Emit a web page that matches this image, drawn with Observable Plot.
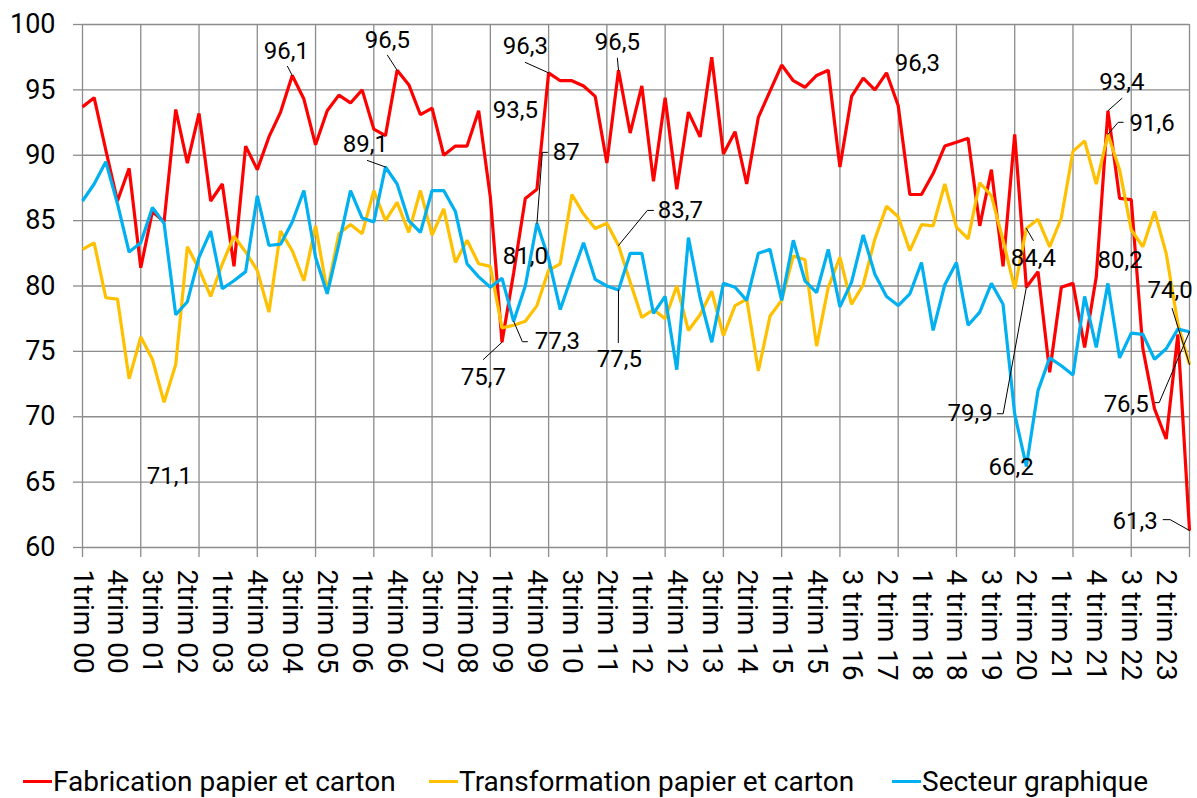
<!DOCTYPE html>
<html><head><meta charset="utf-8">
<script src="https://cdn.jsdelivr.net/npm/d3@7"></script>
<script src="https://cdn.jsdelivr.net/npm/@observablehq/plot@0.6"></script>
<style>
html,body{margin:0;padding:0;background:#fff;overflow:hidden;}
body{width:1197px;height:798px;font-family:Roboto,"Liberation Sans",sans-serif;}
#legend{position:relative;height:36px;font-size:28px;color:#000;}
.item{position:absolute;top:0;height:36px;display:flex;align-items:center;white-space:nowrap;}
.sw{width:29px;height:3px;margin-right:1px;}
</style></head><body>
<div id="chart"></div>
<div id="legend"></div>
<script>
const categories = [
"1trim 00","2trim 00","3trim 00","4trim 00","1trim 01","2trim 01","3trim 01","4trim 01",
"1trim 02","2trim 02","3trim 02","4trim 02","1trim 03","2trim 03","3trim 03","4trim 03",
"1trim 04","2trim 04","3trim 04","4trim 04","1trim 05","2trim 05","3trim 05","4trim 05",
"1trim 06","2trim 06","3trim 06","4trim 06","1trim 07","2trim 07","3trim 07","4trim 07",
"1trim 08","2trim 08","3trim 08","4trim 08","1trim 09","2trim 09","3trim 09","4trim 09",
"1trim 10","2trim 10","3trim 10","4trim 10","1trim 11","2trim 11","3trim 11","4trim 11",
"1trim 12","2trim 12","3trim 12","4trim 12","1trim 13","2trim 13","3trim 13","4trim 13",
"1trim 14","2trim 14","3trim 14","4trim 14","1trim 15","2trim 15","3trim 15","4trim 15",
"1 trim 16","2 trim 16","3 trim 16","4 trim 16","1 trim 17","2 trim 17","3 trim 17","4 trim 17",
"1 trim 18","2 trim 18","3 trim 18","4 trim 18","1 trim 19","2 trim 19","3 trim 19","4 trim 19",
"1 trim 20","2 trim 20","3 trim 20","4 trim 20","1 trim 21","2 trim 21","3 trim 21","4 trim 21",
"1 trim 22","2 trim 22","3 trim 22","4 trim 22","1 trim 23","2 trim 23","3 trim 23","4 trim 23"];

const fabrication = [
93.7,94.4,90.4,86.5,89.0,81.4,85.7,84.9,93.5,89.4,93.2,86.5,87.8,81.5,90.7,88.9,
91.4,93.3,96.1,94.3,90.8,93.4,94.6,94.0,95.0,92.0,91.5,96.5,95.4,93.1,93.6,90.0,
90.7,90.7,93.4,86.8,75.7,81.0,86.7,87.4,96.3,95.7,95.7,95.3,94.5,89.4,96.5,91.7,
95.3,88.0,94.4,87.4,93.3,91.4,97.5,90.1,91.8,87.8,92.9,94.9,96.9,95.7,95.2,96.1,
96.5,89.1,94.5,95.9,95.0,96.3,93.8,87.0,87.0,88.6,90.7,91.0,91.3,84.6,88.9,81.5,
91.6,79.9,81.1,73.4,79.9,80.2,75.3,80.7,93.4,86.7,86.6,75.2,70.6,68.3,76.3,61.3];

const transformation = [
82.8,83.3,79.1,79.0,72.9,76.1,74.4,71.1,74.0,83.0,81.3,79.2,81.7,83.8,82.6,81.2,
78.0,84.2,82.7,80.4,84.6,79.6,84.0,84.7,84.0,87.3,85.0,86.4,84.1,87.3,83.9,85.9,
81.8,83.5,81.7,81.5,76.8,77.0,77.3,78.5,81.2,81.7,87.0,85.5,84.4,84.8,83.1,80.3,
77.6,78.2,77.5,80.0,76.6,77.8,79.6,76.2,78.5,79.0,73.5,77.7,78.9,82.3,82.0,75.4,
79.9,82.2,78.6,80.1,83.6,86.1,85.3,82.7,84.7,84.6,87.8,84.5,83.6,87.9,86.9,83.5,
79.8,84.4,85.1,83.0,85.2,90.3,91.1,87.8,91.6,88.9,84.3,83.0,85.7,82.5,77.1,74.0];

const graphique = [
86.5,87.8,89.5,86.3,82.6,83.3,86.0,84.8,77.8,78.8,82.2,84.2,79.8,80.4,81.1,86.9,
83.1,83.2,84.9,87.3,82.2,79.4,83.2,87.3,85.2,84.9,89.1,87.8,85.0,84.1,87.3,87.3,
85.7,81.7,80.7,79.9,80.6,77.3,80.0,84.8,82.1,78.2,80.8,83.3,80.5,80.0,79.7,82.5,
82.5,77.9,79.2,73.6,83.7,79.1,75.7,80.2,79.9,78.9,82.5,82.8,78.9,83.5,80.4,79.5,
82.8,78.4,80.3,83.9,80.9,79.2,78.5,79.4,81.8,76.6,80.1,81.8,77.0,78.0,80.2,78.6,
70.2,66.2,72.0,74.5,73.9,73.2,79.2,75.3,80.2,74.5,76.4,76.3,74.4,75.2,76.7,76.5];

const seriesNames = ["Fabrication papier et carton","Transformation papier et carton","Secteur graphique"];
const seriesColors = ["#FF0000","#FFC000","#00B0F0"];
const seriesValues = [fabrication, transformation, graphique];

const yTicks = [60,65,70,75,80,85,90,95,100];
const xGridTicks = d3.range(0, 96, 5);
const xLabelTicks = d3.range(0, 96, 3);

// data labels: text, series index, point index, label centre (quarter index, value), leader start & optional elbow
const annotations = [
  {text:"96,1", s:0, i:18, lx:17.5, ly:97.96, sx:17.59, sy:96.8},
  {text:"96,5", s:0, i:27, lx:26.17, ly:98.8, sx:26.17, sy:97.65},
  {text:"89,1", s:2, i:26, lx:24.28, ly:90.83, sx:24.45, sy:89.6},
  {text:"96,3", s:0, i:40, lx:38.0, ly:98.34, sx:38.0, sy:97.1},
  {text:"93,5", s:0, i:null, lx:37.15, ly:93.43},
  {text:"87", s:2, i:39, lx:41.52, ly:90.2, sx:39.9, sy:90.22, ex:39.46, ey:90.22},
  {text:"96,5", s:0, i:46, lx:45.9, ly:98.64, sx:45.9, sy:97.42},
  {text:"83,7", s:1, i:46, lx:51.3, ly:85.78, sx:49.0, sy:85.78, ex:48.47, ey:85.78},
  {text:"81,0", s:0, i:null, lx:38.0, ly:82.26},
  {text:"75,7", s:0, i:36, lx:34.4, ly:73.0, sx:34.4, sy:74.38},
  {text:"77,3", s:2, i:37, lx:40.75, ly:75.74, sx:38.18, sy:75.74, ex:37.75, ey:75.74},
  {text:"77,5", s:2, i:46, lx:46.07, ly:74.36, sx:45.98, sy:75.67},
  {text:"71,1", s:1, i:null, lx:7.46, ly:65.41},
  {text:"96,3", s:0, i:null, lx:71.64, ly:97.03},
  {text:"93,4", s:0, i:88, lx:89.2, ly:95.58, sx:89.2, sy:94.35},
  {text:"91,6", s:1, i:88, lx:91.8, ly:92.44, sx:89.31, sy:92.52, ex:88.88, ey:92.52},
  {text:"84,4", s:1, i:81, lx:81.6, ly:82.1, sx:81.6, sy:83.48},
  {text:"80,2", s:2, i:null, lx:89.05, ly:81.96},
  {text:"74,0", s:1, i:95, lx:93.34, ly:79.66, sx:93.51, sy:78.28},
  {text:"79,9", s:0, i:81, lx:76.18, ly:70.23, sx:78.5, sy:70.23, ex:79.01, ey:70.23},
  {text:"66,2", s:2, i:null, lx:79.7, ly:66.1},
  {text:"76,5", s:2, i:95, lx:89.57, ly:70.92, sx:92.06, sy:71.08, ex:92.4, ey:71.08},
  {text:"61,3", s:0, i:95, lx:90.34, ly:61.97, sx:92.74, sy:62.13, ex:93.34, ey:62.13}
];

const rows = [];
seriesValues.forEach((vals, s) => vals.forEach((v, i) => rows.push({i, v, name: seriesNames[s]})));

const leaders = [];
annotations.forEach((a, k) => {
  if (a.i === null || a.sx === undefined) return;
  leaders.push({k, x: a.sx, y: a.sy});
  if (a.ex !== undefined) leaders.push({k, x: a.ex, y: a.ey});
  leaders.push({k, x: a.i, y: seriesValues[a.s][a.i]});
});

const grid = "#8c8c8c";
const chart = Plot.plot({
  width: 1197, height: 763,
  marginLeft: 82, marginRight: 8, marginTop: 24, marginBottom: 216,
  style: {fontFamily: "Roboto, sans-serif", color: "#000", background: "#fff"},
  x: {domain: [0, 95], axis: null},
  y: {domain: [60, 100], axis: null},
  color: {domain: seriesNames, range: seriesColors},
  marks: [
    Plot.gridY(yTicks, {stroke: grid, strokeOpacity: 1, strokeWidth: 1.3}),
    Plot.gridX(xGridTicks, {stroke: grid, strokeOpacity: 1, strokeWidth: 1.3}),
    Plot.axisY(yTicks, {tickSize: 9, tickPadding: 18, stroke: grid, strokeWidth: 1.3, fontSize: 27, label: null, tickFormat: d => String(d)}),
    Plot.axisX(xGridTicks, {tickSize: 10, stroke: grid, strokeWidth: 1.3, tickFormat: () => "", label: null}),
    Plot.axisX(xLabelTicks, {tickSize: 0, tickPadding: 22, tickRotate: 90, fontSize: 28, label: null, tickFormat: i => categories[i]}),
    Plot.line(rows, {x: "i", y: "v", z: "name", stroke: "name", strokeWidth: 3.2, strokeLinejoin: "miter", strokeLinecap: "butt"}),
    Plot.line(leaders, {x: "x", y: "y", z: "k", stroke: "#000", strokeWidth: 1}),
    Plot.text(annotations, {x: "lx", y: "ly", text: "text", fontSize: 24, fill: "#000"})
  ]
});
document.getElementById("chart").appendChild(chart);

const legend = document.getElementById("legend");
const lefts = [23, 429, 892];
seriesNames.forEach((n, k) => {
  const it = document.createElement("div");
  it.className = "item";
  it.style.left = lefts[k] + "px";
  const sw = document.createElement("span");
  sw.className = "sw";
  sw.style.background = seriesColors[k];
  const t = document.createElement("span");
  t.textContent = n;
  it.appendChild(sw); it.appendChild(t);
  legend.appendChild(it);
});
</script>
</body></html>
